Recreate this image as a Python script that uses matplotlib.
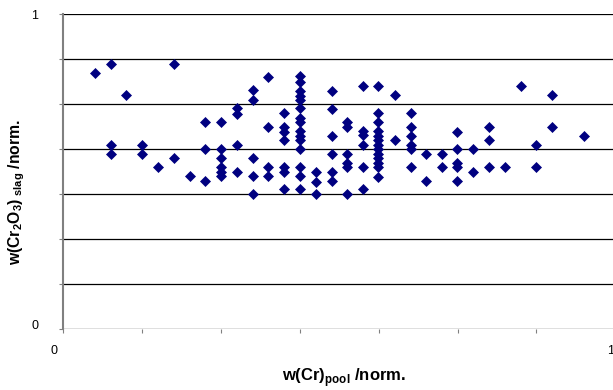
import numpy as np
import matplotlib
matplotlib.use("Agg")
import matplotlib.pyplot as plt
import matplotlib.transforms as mtransforms

plt.rcParams['font.family'] = ['Liberation Sans', 'DejaVu Sans']
plt.rcParams['mathtext.fontset'] = 'custom'
plt.rcParams['mathtext.rm'] = 'Liberation Sans'
plt.rcParams['mathtext.bf'] = 'Liberation Sans:bold'

# w(Cr)pool, normalised
cr_pool = [0.057,
           0.086, 0.086, 0.086,
           0.114,
           0.143, 0.143,
           0.171,
           0.2, 0.2,
           0.229,
           0.257, 0.257, 0.257,
           0.286, 0.286, 0.286, 0.286, 0.286, 0.286,
           0.314, 0.314, 0.314, 0.314,
           0.343, 0.343, 0.343, 0.343, 0.343,
           0.371, 0.371, 0.371, 0.371,
           0.4, 0.4, 0.4, 0.4, 0.4, 0.4, 0.4,
           0.429, 0.429, 0.429, 0.429, 0.429, 0.429, 0.429, 0.429,
           0.429, 0.429, 0.429, 0.429, 0.429, 0.429, 0.429,
           0.457, 0.457, 0.457,
           0.486, 0.486, 0.486, 0.486, 0.486, 0.486,
           0.514, 0.514, 0.514, 0.514, 0.514, 0.514,
           0.543, 0.543, 0.543, 0.543, 0.543, 0.543,
           0.571, 0.571, 0.571, 0.571, 0.571, 0.571, 0.571,
           0.571, 0.571, 0.571, 0.571, 0.571, 0.571,
           0.6, 0.6,
           0.629, 0.629, 0.629, 0.629, 0.629, 0.629,
           0.657, 0.657,
           0.686, 0.686,
           0.714, 0.714, 0.714, 0.714, 0.714,
           0.743, 0.743,
           0.771, 0.771, 0.771,
           0.8,
           0.829,
           0.857, 0.857,
           0.886, 0.886,
           0.943]

# w(Cr2O3)slag, normalised
cr2o3_slag = [0.815,
              0.843, 0.586, 0.557,
              0.743,
              0.586, 0.557,
              0.514,
              0.843, 0.543,
              0.487,
              0.657, 0.571, 0.472,
              0.657, 0.571, 0.543, 0.514, 0.500, 0.487,
              0.702, 0.684, 0.586, 0.500,
              0.759, 0.728, 0.543, 0.487, 0.429,
              0.800, 0.642, 0.514, 0.487,
              0.686, 0.641, 0.627, 0.601, 0.514, 0.500, 0.445,
              0.804, 0.786, 0.757, 0.742, 0.728, 0.701, 0.672, 0.659,
              0.630, 0.615, 0.601, 0.571, 0.514, 0.487, 0.445,
              0.500, 0.468, 0.429,
              0.758, 0.699, 0.614, 0.557, 0.500, 0.471,
              0.659, 0.643, 0.557, 0.529, 0.514, 0.429,
              0.772, 0.631, 0.617, 0.585, 0.514, 0.445,
              0.772, 0.686, 0.657, 0.630, 0.615, 0.601, 0.585,
              0.571, 0.557, 0.543, 0.529, 0.514, 0.484,
              0.743, 0.601,
              0.686, 0.643, 0.614, 0.585, 0.571, 0.514,
              0.557, 0.471,
              0.557, 0.514,
              0.627, 0.571, 0.529, 0.514, 0.472,
              0.571, 0.500,
              0.642, 0.601, 0.514,
              0.514,
              0.772,
              0.586, 0.514,
              0.743, 0.642,
              0.614]

fig = plt.figure(figsize=(6.13, 3.90), dpi=100)
ax = fig.add_axes([63.3 / 613, 60.7 / 390, 552 / 613, 315 / 390])

ticks = np.arange(0, 8) / 7
ax.set_xlim(0, 1)
ax.set_ylim(0, 1)
ax.set_yticks(ticks)
ax.set_xticks(ticks)
ax.set_yticklabels(['0', '', '', '', '', '', '', '1'])
ax.set_xticklabels(['0', '', '', '', '', '', '', '1'])

for t in ticks:
    ax.axhline(t, color='black', lw=0.9, zorder=1)

ax.plot(cr_pool, cr2o3_slag, linestyle='none', marker='D', markersize=4.9,
        color='#000080', markeredgewidth=0.5, zorder=3, clip_on=False)

for side in ['top', 'right', 'bottom']:
    ax.spines[side].set_visible(False)
ax.spines['left'].set_color('#808080')
ax.spines['left'].set_linewidth(1.5)

ax.tick_params(axis='y', direction='out', length=3, width=0.8, color='#808080',
               pad=15, labelsize=9)
ax.tick_params(axis='x', direction='out', length=3, width=0.8, color='#808080',
               pad=8, labelsize=9)

# small offsets of the end labels, as in the original
xl = ax.get_xticklabels()
xl[0].set_transform(xl[0].get_transform()
                    + mtransforms.ScaledTranslation(-0.09, 0, fig.dpi_scale_trans))
xl[-1].set_transform(xl[-1].get_transform()
                     + mtransforms.ScaledTranslation(-0.05, 0, fig.dpi_scale_trans))
yl = ax.get_yticklabels()
yl[0].set_transform(yl[0].get_transform()
                    + mtransforms.ScaledTranslation(0, 0.05, fig.dpi_scale_trans))

fig.text(344 / 613, 1 - 377.5 / 390, r'w(Cr)$_\mathbf{pool}$ /norm.',
         ha='center', va='center', fontsize=12, fontweight='bold')
fig.text(16.5 / 613, 1 - 192 / 390,
         r'w(Cr$_\mathbf{2}$O$_\mathbf{3}$)$_\mathbf{\ slag}$ /norm.',
         ha='center', va='center', rotation=90, fontsize=11.3, fontweight='bold')

fig.savefig('out.png', dpi=100)
